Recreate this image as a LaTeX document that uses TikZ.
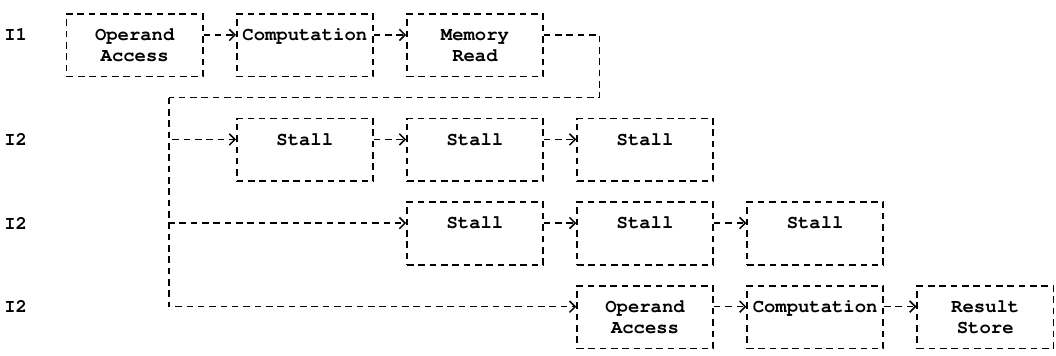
\documentclass[tikz,border=0pt]{standalone}
\usepackage[T1]{fontenc}
\usepackage{courier}
\usetikzlibrary{arrows.meta}
\newcommand{\rowstrut}{\rule[-2.53pt]{0pt}{11.06pt}}
\newcommand{\twolines}[2]{\rowstrut#1\\\rowstrut#2}

\begin{document}
\begin{tikzpicture}[x=6pt, y=11.06pt, line width=0.8pt,
    every node/.style={font=\ttfamily\bfseries\fontsize{10}{11.06}\selectfont, inner sep=0pt},
    stage/.style={draw, dash pattern=on 3.5pt off 2.5pt, minimum width=72pt, minimum height=33.18pt, align=center},
    link/.style={dash pattern=on 3.5pt off 2.5pt},
    flow/.style={link, -{Straight Barb[length=3pt,width=6pt]}}]
  \useasboundingbox (-0.88,0.67) rectangle (92.24,-16.36);

  % instruction labels
  \node (i1) at (0.5,-1) {I1};
  \node (i2a) at (0.5,-6) {I2};
  \node (i2b) at (0.5,-10) {I2};
  \node (i2c) at (0.5,-14) {I2};

  % first instruction
  \node[stage] (oa1) at (11,-1.5) {\twolines{Operand}{Access}};
  \node[stage] (cp1) at (26,-1.5) {\twolines{Computation}{}};
  \node[stage] (mr1) at (41,-1.5) {\twolines{Memory}{Read}};

  % stalls
  \node[stage] (st1a) at (26,-6.5) {\twolines{Stall}{}};
  \node[stage] (st1b) at (41,-6.5) {\twolines{Stall}{}};
  \node[stage] (st1c) at (56,-6.5) {\twolines{Stall}{}};
  \node[stage] (st2a) at (41,-10.5) {\twolines{Stall}{}};
  \node[stage] (st2b) at (56,-10.5) {\twolines{Stall}{}};
  \node[stage] (st2c) at (71,-10.5) {\twolines{Stall}{}};

  % second instruction
  \node[stage] (oa2) at (56,-14.5) {\twolines{Operand}{Access}};
  \node[stage] (cp2) at (71,-14.5) {\twolines{Computation}{}};
  \node[stage] (rs2) at (86,-14.5) {\twolines{Result}{Store}};

  \coordinate (turn) at (52,-4);
  \coordinate (split) at (14,-4);

  \draw[flow] ([yshift=5.53pt]oa1.east) -- ([yshift=5.53pt]cp1.west);
  \draw[flow] ([yshift=5.53pt]cp1.east) -- ([yshift=5.53pt]mr1.west);
  \draw[link] ([yshift=5.53pt]mr1.east) -| (turn) -- (split);
  \draw[flow] (split) |- ([yshift=5.53pt]st1a.west);
  \draw[flow] (split) |- ([yshift=5.53pt]st2a.west);
  \draw[flow] (split) |- ([yshift=5.53pt]oa2.west);

  \draw[flow] ([yshift=5.53pt]st1a.east) -- ([yshift=5.53pt]st1b.west);
  \draw[flow] ([yshift=5.53pt]st1b.east) -- ([yshift=5.53pt]st1c.west);
  \draw[flow] ([yshift=5.53pt]st2a.east) -- ([yshift=5.53pt]st2b.west);
  \draw[flow] ([yshift=5.53pt]st2b.east) -- ([yshift=5.53pt]st2c.west);
  \draw[flow] ([yshift=5.53pt]oa2.east) -- ([yshift=5.53pt]cp2.west);
  \draw[flow] ([yshift=5.53pt]cp2.east) -- ([yshift=5.53pt]rs2.west);
\end{tikzpicture}
\end{document}
